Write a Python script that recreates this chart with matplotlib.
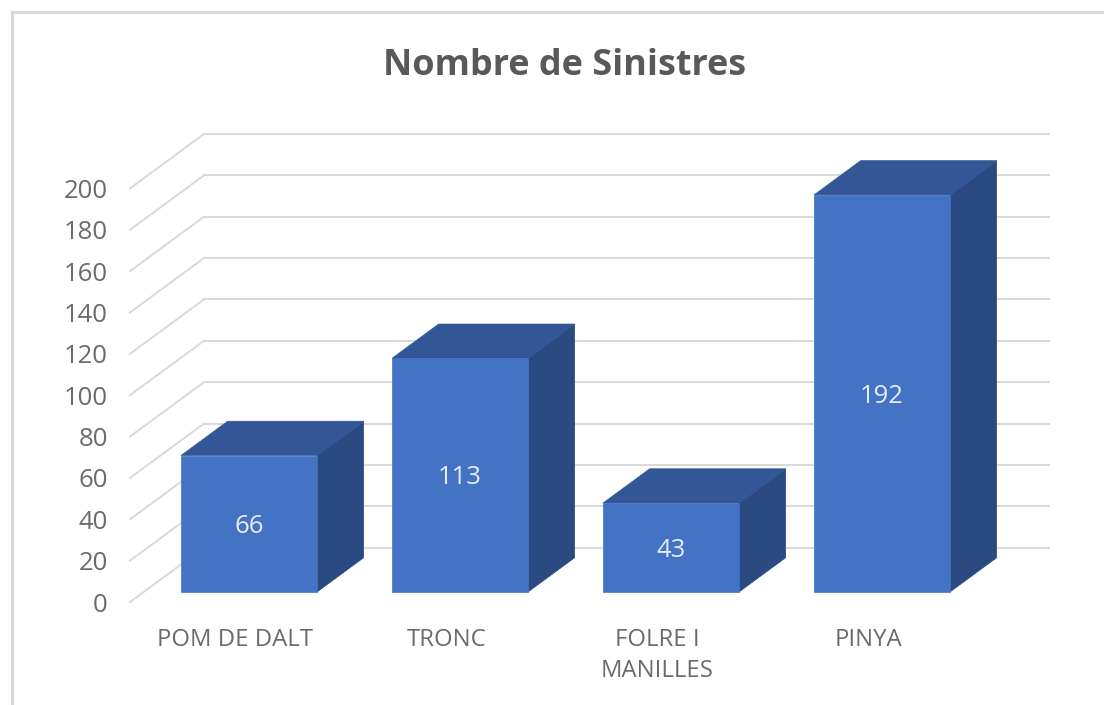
import matplotlib
matplotlib.use("Agg")
import matplotlib.pyplot as plt
from matplotlib.lines import Line2D
from matplotlib.patches import Polygon

categories = ["POM DE DALT", "TRONC", "FOLRE I\nMANILLES", "PINYA"]
values = [66, 113, 43, 192]
y_ticks = list(range(0, 201, 20))
title = "Nombre de Sinistres"

W, H = 1104, 705
plt.rcParams['font.family'] = ['Open Sans', 'DejaVu Sans']
fig = plt.figure(figsize=(W / 100, H / 100), dpi=100, facecolor='white')

# axes rectangle in pixels
L, R, B, T = 130, 1049, 602, 134
ax = fig.add_axes([L / W, 1 - B / H, (R - L) / W, (B - T) / H])
PX_X, PX_Y, X0 = 211.0, 2.068, 235.4
ax.set_xlim((L - X0) / PX_X, (R - X0) / PX_X)
ax.set_ylim(0, (B - T) / PX_Y)
ax.patch.set_alpha(0)
for s in ax.spines.values():
    s.set_visible(False)

# oblique depth offsets for a unit of depth
DX, DY = 74 / PX_X, 54.4 / PX_Y
def proj(x, v, d):
    return (x + DX * d, v + DY * d)

TICK = '#6b6b6b'
ax.set_yticks(y_ticks)
ax.set_xticks(range(len(categories)))
ax.set_xticklabels(categories, linespacing=1.42)
ax.tick_params(axis='y', length=0, pad=16, labelsize=18.5, labelcolor=TICK)
ax.tick_params(axis='x', length=0, pad=18.5, labelsize=17.2, labelcolor=TICK)

# walls
x_left = ax.get_xlim()[0]
x_right = ax.get_xlim()[1]
GRID = '#d9d9d9'
for v in y_ticks:
    p0 = proj(x_left, v, 0)
    p1 = proj(x_left, v, 1)
    ax.plot([p0[0], p1[0]], [p0[1], p1[1]], color=GRID, lw=1.4, zorder=1, clip_on=False)
    ax.plot([p1[0], x_right], [p1[1], p1[1]], color=GRID, lw=1.4, zorder=1, clip_on=False)

# 3D bars
D0, D1 = 0.184, 0.814
HALF = 136 / PX_X / 2
FRONT, TOP, SIDE = '#4472c4', '#335796', '#2b4a82'
for i, v in enumerate(values):
    xl, xr = i - HALF, i + HALF
    front = [proj(xl, 0, D0), proj(xr, 0, D0), proj(xr, v, D0), proj(xl, v, D0)]
    top = [proj(xl, v, D0), proj(xr, v, D0), proj(xr, v, D1), proj(xl, v, D1)]
    side = [proj(xr, 0, D0), proj(xr, 0, D1), proj(xr, v, D1), proj(xr, v, D0)]
    ax.add_patch(Polygon(side, closed=True, fc=SIDE, ec=SIDE, lw=0.5, zorder=3, clip_on=False))
    ax.add_patch(Polygon(top, closed=True, fc=TOP, ec=TOP, lw=0.5, zorder=3, clip_on=False))
    ax.add_patch(Polygon(front, closed=True, fc=FRONT, ec=FRONT, lw=0.5, zorder=4, clip_on=False))
    cx, cy = proj(i, v / 2, D0)
    ax.annotate(str(v), (cx, cy), xytext=(0, -2), textcoords='offset points',
                color='#e6ecf7', fontsize=18.5, ha='center', va='center', zorder=5)

# chart frame
FR = '#d9d9d9'
fig.add_artist(Line2D([12 / W, 12 / W], [0, 1 - 12 / H], color=FR, lw=2.2))
fig.add_artist(Line2D([12 / W, 1], [1 - 12 / H, 1 - 12 / H], color=FR, lw=2.2))

fig.text(565 / W, 1 - 66 / H, title, color='#595959', fontsize=25.9, fontweight='bold',
         ha='center', va='center')

fig.savefig('out.png', dpi=100, facecolor='white')
